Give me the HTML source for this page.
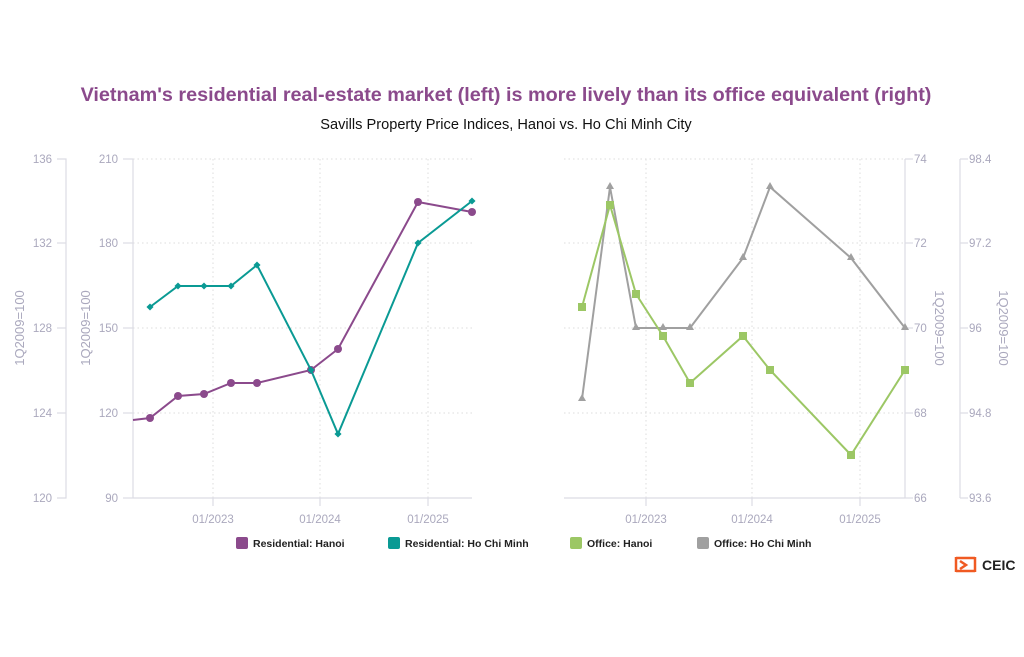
<!DOCTYPE html>
<html><head><meta charset="utf-8"><style>
body{margin:0;background:#fff;}
svg text{font-family:"Liberation Sans",sans-serif;}
</style></head><body>
<svg width="1024" height="652" viewBox="0 0 1024 652" xmlns="http://www.w3.org/2000/svg">
<rect width="1024" height="652" fill="#fff"/>
<text x="506" y="101" text-anchor="middle" font-size="19.8" font-weight="bold" fill="#8B4A8C">Vietnam's residential real-estate market (left) is more lively than its office equivalent (right)</text>
<text x="506" y="129" text-anchor="middle" font-size="14.6" fill="#111">Savills Property Price Indices, Hanoi vs. Ho Chi Minh City</text>
<g stroke="#ddd" stroke-dasharray="1.5,3" stroke-width="1">
<line x1="133" y1="159" x2="472" y2="159"/><line x1="133" y1="243" x2="472" y2="243"/><line x1="133" y1="328" x2="472" y2="328"/><line x1="133" y1="413" x2="472" y2="413"/>
<line x1="213" y1="159" x2="213" y2="498"/><line x1="320" y1="159" x2="320" y2="498"/><line x1="428" y1="159" x2="428" y2="498"/>
<line x1="564" y1="159" x2="905" y2="159"/><line x1="564" y1="243" x2="905" y2="243"/><line x1="564" y1="328" x2="905" y2="328"/><line x1="564" y1="413" x2="905" y2="413"/>
<line x1="646" y1="159" x2="646" y2="498"/><line x1="752" y1="159" x2="752" y2="498"/><line x1="860" y1="159" x2="860" y2="498"/>
</g>
<g stroke="#dcdce4" stroke-width="1.2" fill="none">
<polyline points="57,159 66,159 66,498 57,498"/>
<line x1="57" y1="243" x2="66" y2="243"/><line x1="57" y1="328" x2="66" y2="328"/><line x1="57" y1="413" x2="66" y2="413"/>
<line x1="133" y1="159" x2="133" y2="498"/><line x1="123" y1="159" x2="133" y2="159"/><line x1="123" y1="243" x2="133" y2="243"/><line x1="123" y1="328" x2="133" y2="328"/><line x1="123" y1="413" x2="133" y2="413"/><line x1="123" y1="498" x2="133" y2="498"/>
<line x1="133" y1="498" x2="472" y2="498"/><line x1="213" y1="498" x2="213" y2="506"/><line x1="320" y1="498" x2="320" y2="506"/><line x1="428" y1="498" x2="428" y2="506"/>
<line x1="564" y1="498" x2="905" y2="498"/><line x1="646" y1="498" x2="646" y2="506"/><line x1="752" y1="498" x2="752" y2="506"/><line x1="860" y1="498" x2="860" y2="506"/>
<line x1="905" y1="159" x2="905" y2="498"/><line x1="905" y1="159" x2="913" y2="159"/><line x1="905" y1="243" x2="913" y2="243"/><line x1="905" y1="328" x2="913" y2="328"/><line x1="905" y1="413" x2="913" y2="413"/><line x1="905" y1="498" x2="913" y2="498"/>
<line x1="960" y1="159" x2="960" y2="498"/><line x1="960" y1="159" x2="968" y2="159"/><line x1="960" y1="243" x2="968" y2="243"/><line x1="960" y1="328" x2="968" y2="328"/><line x1="960" y1="413" x2="968" y2="413"/><line x1="960" y1="498" x2="968" y2="498"/>
</g>
<g font-size="11.5" fill="#aaa8bd">
<g text-anchor="end"><text x="52" y="163">136</text><text x="52" y="247">132</text><text x="52" y="332">128</text><text x="52" y="417">124</text><text x="52" y="502">120</text>
<text x="118" y="163">210</text><text x="118" y="247">180</text><text x="118" y="332">150</text><text x="118" y="417">120</text><text x="118" y="502">90</text></g>
<text x="914" y="163">74</text><text x="914" y="247">72</text><text x="914" y="332">70</text><text x="914" y="417">68</text><text x="914" y="502">66</text>
<text x="969" y="163">98.4</text><text x="969" y="247">97.2</text><text x="969" y="332">96</text><text x="969" y="417">94.8</text><text x="969" y="502">93.6</text>
<g text-anchor="middle"><text x="213" y="523">01/2023</text><text x="320" y="523">01/2024</text><text x="428" y="523">01/2025</text>
<text x="646" y="523">01/2023</text><text x="752" y="523">01/2024</text><text x="860" y="523">01/2025</text></g>
</g>
<g font-size="13" fill="#aaa8bd" text-anchor="middle">
<text transform="translate(24,328) rotate(-90)">1Q2009=100</text>
<text transform="translate(90,328) rotate(-90)">1Q2009=100</text>
<text transform="translate(935,328) rotate(90)">1Q2009=100</text>
<text transform="translate(999,328) rotate(90)">1Q2009=100</text>
</g>
<polyline fill="none" stroke="#8B4A8C" stroke-width="2" points="133,420 150,418 178,396 204,394 231,383 257,383 311,370 338,349 418,202 472,212"/>
<g fill="#8B4A8C"><circle cx="150" cy="418" r="4"/><circle cx="178" cy="396" r="4"/><circle cx="204" cy="394" r="4"/><circle cx="231" cy="383" r="4"/><circle cx="257" cy="383" r="4"/><circle cx="311" cy="370" r="4"/><circle cx="338" cy="349" r="4"/><circle cx="418" cy="202" r="4"/><circle cx="472" cy="212" r="4"/></g>
<polyline fill="none" stroke="#0A9A94" stroke-width="2" points="150,307 178,286 204,286 231,286 257,265 311,370 338,434 418,243 472,201"/>
<g fill="#0A9A94"><g transform="translate(150,307) rotate(45)"><rect x="-2.5" y="-2.5" width="5" height="5"/></g><g transform="translate(178,286) rotate(45)"><rect x="-2.5" y="-2.5" width="5" height="5"/></g><g transform="translate(204,286) rotate(45)"><rect x="-2.5" y="-2.5" width="5" height="5"/></g><g transform="translate(231,286) rotate(45)"><rect x="-2.5" y="-2.5" width="5" height="5"/></g><g transform="translate(257,265) rotate(45)"><rect x="-2.5" y="-2.5" width="5" height="5"/></g><g transform="translate(311,370) rotate(45)"><rect x="-2.5" y="-2.5" width="5" height="5"/></g><g transform="translate(338,434) rotate(45)"><rect x="-2.5" y="-2.5" width="5" height="5"/></g><g transform="translate(418,243) rotate(45)"><rect x="-2.5" y="-2.5" width="5" height="5"/></g><g transform="translate(472,201) rotate(45)"><rect x="-2.5" y="-2.5" width="5" height="5"/></g></g>
<polyline fill="none" stroke="#A0A0A0" stroke-width="2" points="582,399 610,187 636,328 663,328 690,328 743,258 770,187 851,258 905,328"/>
<g fill="#A0A0A0"><path d="M582,394l4,7h-8z"/><path d="M610,182l4,7h-8z"/><path d="M636,323l4,7h-8z"/><path d="M663,323l4,7h-8z"/><path d="M690,323l4,7h-8z"/><path d="M743,253l4,7h-8z"/><path d="M770,182l4,7h-8z"/><path d="M851,253l4,7h-8z"/><path d="M905,323l4,7h-8z"/></g>
<polyline fill="none" stroke="#9CC765" stroke-width="2" points="582,307 610,205 636,294 663,336 690,383 743,336 770,370 851,455 905,370"/>
<g fill="#9CC765"><rect x="578" y="303" width="8" height="8"/><rect x="606" y="201" width="8" height="8"/><rect x="632" y="290" width="8" height="8"/><rect x="659" y="332" width="8" height="8"/><rect x="686" y="379" width="8" height="8"/><rect x="739" y="332" width="8" height="8"/><rect x="766" y="366" width="8" height="8"/><rect x="847" y="451" width="8" height="8"/><rect x="901" y="366" width="8" height="8"/></g>
<g font-size="10.5" font-weight="bold" fill="#222">
<rect x="236" y="537" width="12" height="12" rx="2" fill="#8B4A8C"/><text x="253" y="547">Residential: Hanoi</text>
<rect x="388" y="537" width="12" height="12" rx="2" fill="#0A9A94"/><text x="405" y="547">Residential: Ho Chi Minh</text>
<rect x="570" y="537" width="12" height="12" rx="2" fill="#9CC765"/><text x="587" y="547">Office: Hanoi</text>
<rect x="697" y="537" width="12" height="12" rx="2" fill="#A0A0A0"/><text x="714" y="547">Office: Ho Chi Minh</text>
</g>
<g fill="none" stroke="#F05A22" stroke-width="2.5"><path d="M956,557v15M975,557v15M956,558h19M956,571h19M960,561l6,4l-6,4"/></g>
<text x="982" y="570" font-size="14" font-weight="bold" fill="#222">CEIC</text>
</svg>
</body></html>
